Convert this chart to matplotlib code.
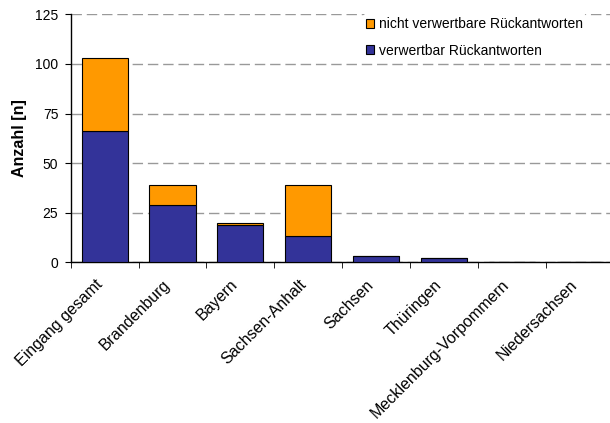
import matplotlib
matplotlib.use("Agg")
import matplotlib.pyplot as plt
import matplotlib.transforms as mtransforms
import numpy as np

plt.rcParams['font.family'] = ['Liberation Sans', 'DejaVu Sans']

categories = ["Eingang gesamt", "Brandenburg", "Bayern", "Sachsen-Anhalt",
              "Sachsen", "Thüringen", "Mecklenburg-Vorpommern", "Niedersachsen"]
verwertbar = [66, 29, 19, 13, 3, 2, 0, 0]
nicht_verwertbar = [37, 10, 1, 26, 0, 0, 0, 0]
yticks = [0, 25, 50, 75, 100, 125]

fig = plt.figure(figsize=(6.10, 4.23), dpi=100)
ax = fig.add_axes([0.116, 0.380, 0.890, 0.586])

x = np.arange(len(categories))
w = 0.68
b1 = ax.bar(x, verwertbar, w, color='#333399', edgecolor='black', linewidth=0.8,
            label='verwertbar Rückantworten', zorder=3)
b2 = ax.bar(x, nicht_verwertbar, w, bottom=verwertbar, color='#FF9900',
            edgecolor='black', linewidth=0.8,
            label='nicht verwertbare Rückantworten', zorder=3)

ax.set_xlim(-0.5, len(categories) - 0.5)
ax.set_ylim(0, 125)
ax.set_yticks(yticks)
ax.set_yticklabels([str(t) for t in yticks], fontsize=10)
ax.yaxis.grid(True, linestyle=(0, (7.5, 3.5)), color='#999999', linewidth=1.0, zorder=0)

ax.set_xticks(x)
ax.set_xticklabels(categories, rotation=45, ha='right', rotation_mode='anchor', fontsize=11.5)
ax.set_xticks(np.arange(len(categories) + 1) - 0.5, minor=True)
ax.tick_params(axis='x', which='major', length=0, pad=11)
ax.tick_params(axis='x', which='minor', length=4, direction='out')
ax.tick_params(axis='y', length=4, direction='out', pad=5)

offset = mtransforms.ScaledTranslation(-0.10, 0.005, fig.dpi_scale_trans)
for lab in ax.get_xticklabels():
    lab.set_transform(lab.get_transform() + offset)

for s in ['top', 'right']:
    ax.spines[s].set_visible(False)
ax.spines['left'].set_linewidth(1.0)
ax.spines['bottom'].set_linewidth(1.0)

ax.set_ylabel('Anzahl [n]', fontsize=11.5, fontweight='bold', labelpad=6)

leg = ax.legend(handles=[b2, b1], loc='upper left', bbox_to_anchor=(0.525, 1.028),
                frameon=True, fontsize=10, handlelength=0.6, handleheight=0.6,
                handletextpad=0.35, labelspacing=0.9, borderpad=0.2)
leg.get_frame().set_edgecolor('white')
leg.get_frame().set_facecolor('white')
leg.get_frame().set_alpha(1.0)
leg.set_zorder(5)

fig.savefig('out.png', dpi=100)
